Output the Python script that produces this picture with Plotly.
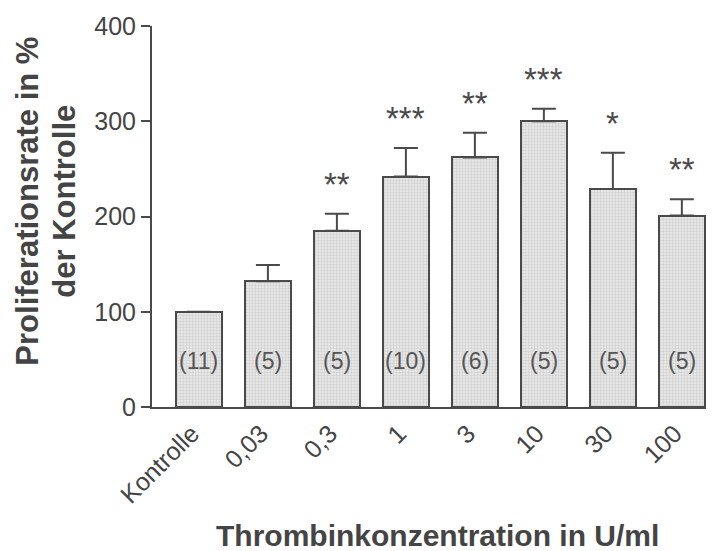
import plotly.graph_objects as go

categories = ["Kontrolle", "0,03", "0,3", "1", "3", "10", "30", "100"]
means = [100, 132, 185, 242, 262, 300, 229, 201]
sem_upper = [0, 17, 18, 30, 26, 13, 38, 17]
n_counts = ["(11)", "(5)", "(5)", "(10)", "(6)", "(5)", "(5)", "(5)"]
significance = ["", "", "**", "***", "**", "***", "*", "**"]
y_ticks = [0, 100, 200, 300, 400]

ink = "#4a4a4a"
text_col = "#444444"
sans = "Liberation Sans, Arial"
xs = list(range(len(categories)))

fig = go.Figure()
fig.add_trace(go.Bar(
    x=xs, y=means, width=0.66,
    marker=dict(
        color="#e0e0e0",
        line=dict(color=ink, width=2),
        pattern=dict(shape="+", size=3, solidity=0.3, fgcolor="#afafaf", bgcolor="#e6e6e6"),
    ),
    error_y=dict(type="data", symmetric=False, array=sem_upper,
                 arrayminus=[0] * len(means), color=ink, thickness=2, width=12),
    hoverinfo="skip",
))

annotations = []
# sample sizes inside the bars
for x, n in zip(xs, n_counts):
    annotations.append(dict(x=x, y=48, text=n, showarrow=False,
                            font=dict(family=sans, size=23, color="#555555")))
# significance stars above the error bars
for x, m, e, s in zip(xs, means, sem_upper, significance):
    if s:
        annotations.append(dict(x=x, y=m + e, text=s, showarrow=False, yanchor="bottom",
                                yshift=9, font=dict(family=sans, size=33, color=ink)))
# two-line y-axis title
for line, dx in (("Proliferationsrate in %", -124), ("der Kontrolle", -87)):
    annotations.append(dict(xref="paper", yref="paper", x=0, y=0.539, xshift=dx,
                            text="<b>" + line + "</b>", textangle=-90, showarrow=False,
                            xanchor="center", yanchor="middle",
                            font=dict(family=sans, size=31, color=text_col)))
# x-axis title
annotations.append(dict(xref="paper", yref="paper", x=(437 - 152) / 554, y=0, yshift=-128,
                        text="<b>Thrombinkonzentration in U/ml</b>", showarrow=False,
                        xanchor="center", yanchor="middle",
                        font=dict(family=sans, size=30, color=text_col)))

fig.update_layout(
    width=720, height=551,
    margin=dict(l=152, r=14, t=23, b=144),
    paper_bgcolor="white", plot_bgcolor="white",
    showlegend=False,
    bargap=0,
    annotations=annotations,
    xaxis=dict(
        range=[-0.68, 7.35], tickvals=xs, ticktext=categories, tickangle=-45,
        ticklabelshift=-7,
        showline=True, linecolor=ink, linewidth=2, ticks="", showgrid=False, zeroline=False,
        tickfont=dict(family=sans, size=25, color=text_col),
    ),
    yaxis=dict(
        range=[0, 400], tickvals=y_ticks, showline=True, linecolor=ink, linewidth=2,
        ticks="outside", ticklen=9, tickwidth=2, tickcolor=ink, showgrid=False, zeroline=False,
        tickfont=dict(family=sans, size=25, color=text_col),
    ),
)

fig.write_html("out.html")
